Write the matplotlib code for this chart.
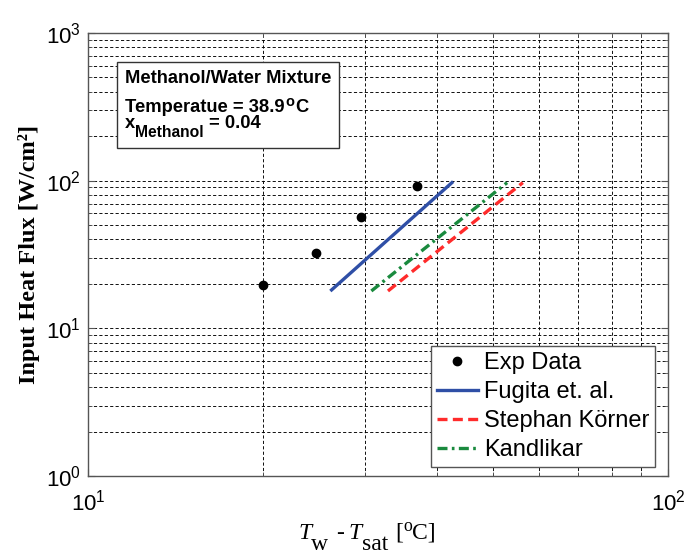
import matplotlib
matplotlib.use("Agg")
import matplotlib.pyplot as plt
from matplotlib.patches import Rectangle
from matplotlib.ticker import NullFormatter

plt.rcParams['font.family'] = ['Liberation Sans', 'DejaVu Sans']

# Data
exp_dT = [20.0, 24.7, 29.6, 36.9]
exp_q = [19.7, 32.5, 57.0, 92.5]

fugita_dT = [26.3, 42.4]
fugita_q = [18.2, 96.9]

stephan_dT = [32.9, 56.2]
stephan_q = [17.9, 97.0]

kandlikar_dT = [30.8, 52.8]
kandlikar_q = [17.9, 97.0]

series_labels = ['Exp Data', 'Fugita et. al.', 'Stephan Körner', 'Kandlikar']

W, H = 684, 560
fig = plt.figure(figsize=(W/100, H/100), dpi=100)
ax = fig.add_axes([88/W, 1-476/H, 580/W, 443/H])

ax.set_xscale('log')
ax.set_yscale('log')
ax.set_xlim(10, 100)
ax.set_ylim(1, 1000)
ax.xaxis.set_minor_formatter(NullFormatter())
ax.yaxis.set_minor_formatter(NullFormatter())

grid_kw = dict(color='k', linestyle=(0, (3.5, 2.5)), linewidth=0.65)
ax.grid(True, which='major', **grid_kw)
ax.grid(True, which='minor', **grid_kw)
ax.set_axisbelow(True)

ax.plot(exp_dT, exp_q, 'o', color='k', markersize=6, label=series_labels[0], zorder=3)
ax.plot(fugita_dT, fugita_q, '-', color='#2f4fa6', lw=2.4, label=series_labels[1], zorder=3)
ax.plot(stephan_dT, stephan_q, '--', color='#ff2b2b', lw=2.4, dashes=(3, 1.6), label=series_labels[2], zorder=3)
ax.plot(kandlikar_dT, kandlikar_q, '-.', color='#1a8a3e', lw=2.4, dashes=(3, 1.3, 0.8, 1.3), label=series_labels[3], zorder=3)

for s in ax.spines.values():
    s.set_color('#555555')
    s.set_linewidth(1.0)

ax.tick_params(which='both', direction='in', top=True, right=True, colors='#555555', labelcolor='k')
ax.tick_params(which='major', length=5, labelsize=16)
ax.tick_params(which='minor', length=3)
ax.tick_params(axis='x', which='major', pad=10)
ax.tick_params(axis='y', which='major', pad=5)

ax.set_ylabel('Input Heat Flux [W/cm²]', fontfamily='Liberation Serif', fontweight='bold', fontsize=17.5, labelpad=4)

leg = ax.legend(loc='lower right', bbox_to_anchor=(0.978, 0.02), fontsize=17, frameon=True,
                fancybox=False, edgecolor='#555555', framealpha=1, borderpad=0.25,
                labelspacing=0.3, handlelength=1.75, handletextpad=0.25, borderaxespad=0)
leg.get_frame().set_linewidth(1.0)

# annotation box
ax.add_patch(Rectangle((29/580, (476-148)/443), (339-117)/580, (148-62)/443, transform=ax.transAxes,
                       facecolor='white', edgecolor='#333333', lw=1.0, zorder=4))

renderer = fig.canvas.get_renderer()


def chain(x0, y0, pieces, **common):
    """Place text pieces one after another; positions in pixels from top-left."""
    x = x0
    for s, dx, dy, kw in pieces:
        opts = dict(common)
        opts.update(kw)
        t = fig.text((x + dx)/W, 1 - (y0 + dy)/H, s, ha='left', va='baseline', **opts)
        x = t.get_window_extent(renderer).x1


fs_box = 13.2
box_kw = dict(fontsize=fs_box, fontweight='bold', fontfamily='Liberation Sans')
fig.text(125/W, 1-83/H, 'Methanol/Water Mixture', ha='left', va='baseline', **box_kw)
chain(125, 112, [
    ('Temperatue = 38.9', 0, 0, {}),
    ('o', 1, -6, dict(fontsize=fs_box*0.8)),
    ('C', 1, 0, {}),
], fontweight='bold', fontfamily='Liberation Sans', fontsize=fs_box)
chain(125, 128, [
    ('x', 0, 0, {}),
    ('Methanol', 0, 9, dict(fontsize=fs_box*0.85)),
    ('= 0.04', 5, 0, {}),
], fontweight='bold', fontfamily='Liberation Sans', fontsize=fs_box)

# x label
fs_x = 17
chain(298, 539, [
    ('T', 0, 0, dict(fontstyle='italic')),
    ('w', 0, 11, {}),
    ('-', 8, 0, {}),
    ('T', 4, 0, dict(fontstyle='italic')),
    ('sat', 1, 11, {}),
    ('[', 7, 0, {}),
    ('o', 0, -8, dict(fontsize=fs_x*0.75)),
    ('C]', 0, 0, {}),
], fontfamily='Liberation Serif', fontsize=fs_x)

fig.savefig('out.png', dpi=100)
